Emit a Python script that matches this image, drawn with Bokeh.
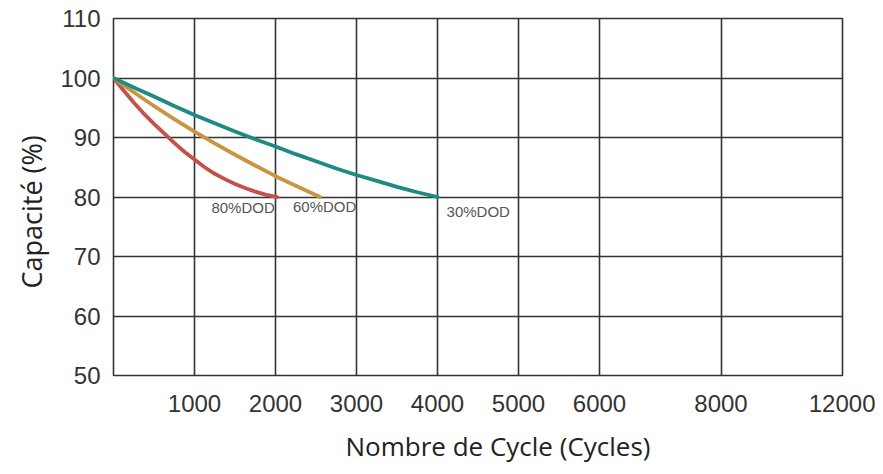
import numpy as np
from bokeh.plotting import figure
from bokeh.models import FixedTicker, Range1d, Title
from bokeh.core.properties import value
from bokeh.embed import file_html
from bokeh.resources import INLINE

# ---- data ----
tick_cycles = [0, 1000, 2000, 3000, 4000, 5000, 6000, 8000, 12000]
tick_labels = ["", "1000", "2000", "3000", "4000", "5000", "6000", "8000", "12000"]
tick_slots = [0, 1, 2, 3, 4, 5, 6, 7.5, 9]   # uneven axis spacing of the original
y_ticks = [50, 60, 70, 80, 90, 100, 110]

dod80_cycles = [0, 125, 250, 375, 500, 625, 750, 875, 1000, 1125, 1250, 1375,
                1500, 1625, 1750, 1875, 2020]
dod80_cap = [100, 97.9, 95.9, 94.0, 92.3, 90.7, 89.1, 87.6, 86.3, 85.0, 83.9,
             83.0, 82.2, 81.5, 80.9, 80.4, 80.0]

dod60_cycles = [0, 250, 500, 750, 1000, 1250, 1500, 1750, 2000, 2250, 2550]
dod60_cap = [100, 97.6, 95.3, 93.1, 91.0, 89.0, 87.1, 85.3, 83.5, 81.9, 80.0]

dod30_cycles = [0, 250, 500, 750, 1000, 1250, 1500, 1750, 2000, 2250, 2500,
                2750, 3000, 3250, 3500, 3750, 4000]
dod30_cap = [100, 98.4, 96.9, 95.3, 93.8, 92.4, 91.0, 89.7, 88.5, 87.2, 86.0,
             84.8, 83.7, 82.7, 81.7, 80.8, 80.0]

series_names = ["80%DOD", "60%DOD", "30%DOD"]
series_colors = ["#c4514a", "#c9963f", "#1e8a84"]
label_cycles = [1209, 2216, 4112]
label_caps = [78.2, 78.4, 77.5]


def to_slot(c):
    return np.interp(np.asarray(c, dtype=float), tick_cycles, tick_slots)


p = figure(width=875, height=474, output_backend="svg", toolbar_location=None,
           x_range=Range1d(0, 9), y_range=Range1d(50, 110),
           min_border_left=113, min_border_right=33,
           min_border_top=18, min_border_bottom=97)
p.background_fill_color = "white"
p.border_fill_color = "white"
p.outline_line_color = "#333333"
p.outline_line_width = 1.6

# axes
p.xaxis.ticker = FixedTicker(ticks=tick_slots[1:])
p.xaxis.major_label_overrides = {s: l for s, l in zip(tick_slots[1:], tick_labels[1:])}
p.yaxis.ticker = FixedTicker(ticks=y_ticks)
for ax in (p.xaxis, p.yaxis):
    ax.axis_line_color = None
    ax.major_tick_line_color = None
    ax.minor_tick_line_color = None
    ax.major_label_text_font = "Liberation Sans"
    ax.major_label_text_font_size = "24px"
    ax.major_label_text_color = "#333333"
p.xaxis.major_label_standoff = 13
p.yaxis.major_label_standoff = 7

p.xgrid.ticker = FixedTicker(ticks=tick_slots)
p.ygrid.ticker = FixedTicker(ticks=y_ticks)
for g in (p.xgrid, p.ygrid):
    g.grid_line_color = "#333333"
    g.grid_line_width = 1.6
    g.grid_line_alpha = 1.0

# curves
for cyc, cap, col in [(dod80_cycles, dod80_cap, series_colors[0]),
                      (dod60_cycles, dod60_cap, series_colors[1]),
                      (dod30_cycles, dod30_cap, series_colors[2])]:
    p.line(to_slot(cyc), cap, line_color=col, line_width=3.8,
           line_cap="round", line_join="round")

# series labels
p.text(x=to_slot(label_cycles), y=label_caps, text=series_names,
       text_font=value("Liberation Sans"), text_font_size="15px",
       text_color="#555555", text_align="left", text_baseline="middle")

# axis titles
xt = Title(text="Nombre de Cycle (Cycles)", align="left", offset=232, standoff=22,
           text_font="Open Sans", text_font_size="26px", text_color="#222222",
           text_font_style="normal")
p.add_layout(xt, "below")
yt = Title(text="Capacité (%)", align="left", offset=87, standoff=16,
           text_font="Open Sans", text_font_size="27px", text_color="#222222",
           text_font_style="normal")
p.add_layout(yt, "left")

open("out.html", "w").write(file_html(p, INLINE))
